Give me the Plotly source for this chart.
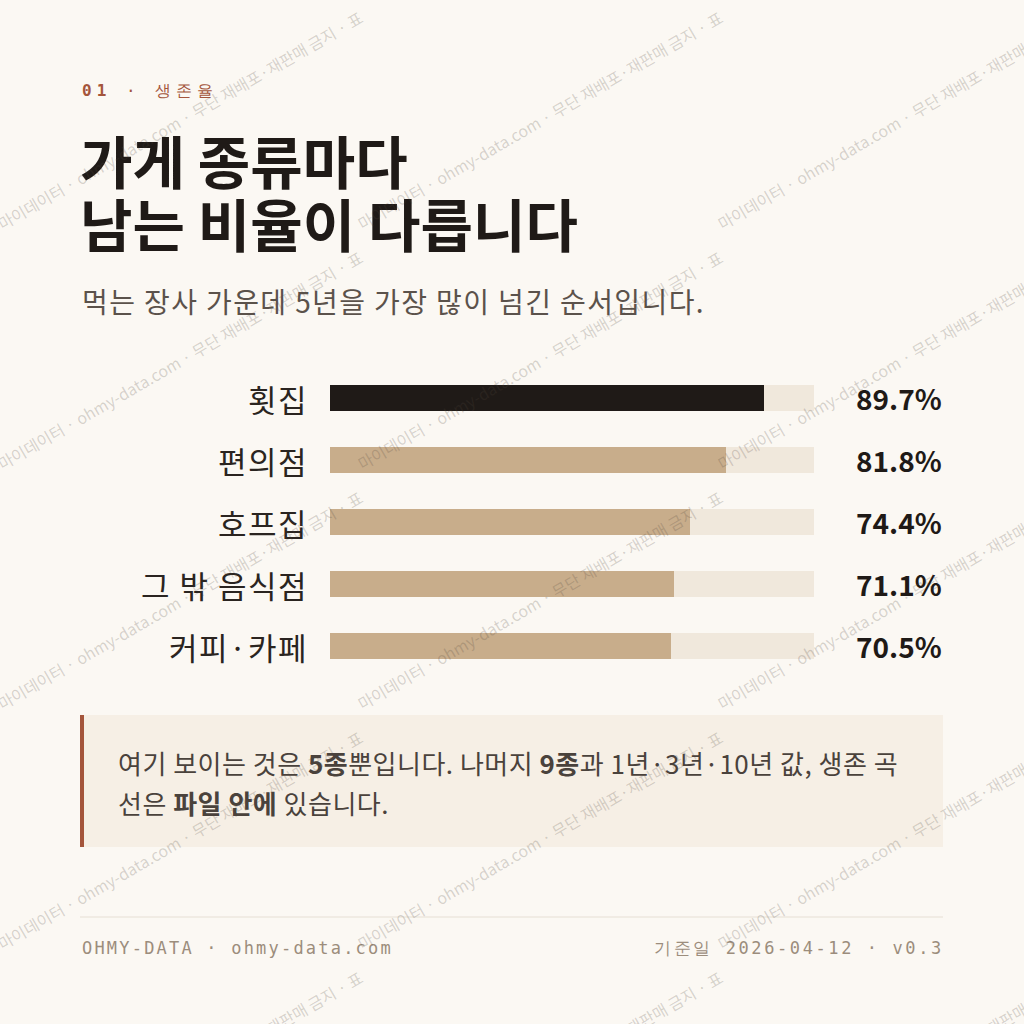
import plotly.graph_objects as go

# 5년 생존율 (%)
categories = ['횟집', '편의점', '호프집', '그 밖 음식점', '커피·카페']
survival = [89.7, 81.8, 74.4, 71.1, 70.5]
track_max = 100

W = H = 1024
BG = '#fbf8f3'
INK = '#1f1a17'
TAN = '#c8ad8b'
TRACK = '#f0e8dc'
RUST = '#a4553b'
MUTED = '#9c8d7c'

KR = 'Noto Sans CJK KR'
MONO = 'DejaVu Sans Mono'


def px(x):
    return x / W


def py(y):
    return 1 - y / H


def spaced(text, sp):
    return f'<span style="letter-spacing:{sp}px">{text}</span>'


colors = [INK] + [TAN] * (len(survival) - 1)

fig = go.Figure()
fig.add_trace(go.Bar(
    y=categories, x=[track_max] * len(categories), orientation='h',
    marker=dict(color=TRACK, line=dict(width=0)), width=0.42,
    hoverinfo='skip', showlegend=False))
fig.add_trace(go.Bar(
    y=categories, x=survival, orientation='h',
    marker=dict(color=colors, line=dict(width=0)), width=0.42,
    showlegend=False))

ann = []

# category labels and values
for c, v in zip(categories, survival):
    ann.append(dict(x=px(310), xref='paper', y=c, yref='y', text=spaced(c, 1.5),
                    xanchor='right', yanchor='middle', showarrow=False,
                    font=dict(family=KR, size=31, color='#2a2420')))
    ann.append(dict(x=px(944), xref='paper', y=c, yref='y', text=f'<b>{v}%</b>',
                    xanchor='right', yanchor='middle', showarrow=False,
                    font=dict(family=KR, size=28, color=INK)))

# header
ann.append(dict(x=px(80), y=py(90), xref='paper', yref='paper',
                text=spaced('<b>01</b> · 생존율', 5),
                xanchor='left', yanchor='middle', showarrow=False,
                font=dict(family=MONO, size=16, color=RUST)))
ann.append(dict(x=px(78), y=py(159), xref='paper', yref='paper',
                text='<b>가게 종류마다</b>', xanchor='left', yanchor='middle',
                showarrow=False, font=dict(family=KR, size=57, color=INK)))
ann.append(dict(x=px(78), y=py(222), xref='paper', yref='paper',
                text='<b>남는 비율이 다릅니다</b>', xanchor='left', yanchor='middle',
                showarrow=False, font=dict(family=KR, size=57, color=INK)))
ann.append(dict(x=px(80), y=py(301), xref='paper', yref='paper',
                text=spaced('먹는 장사 가운데 5년을 가장 많이 넘긴 순서입니다.', 1.4),
                xanchor='left', yanchor='middle', showarrow=False,
                font=dict(family=KR, size=28, color='#5b524b')))

# callout
ann.append(dict(x=px(116), y=py(762), xref='paper', yref='paper',
                text=spaced('여기 보이는 것은 <b>5종</b>뿐입니다. 나머지 <b>9종</b>과 1년·3년·10년 값, 생존 곡', 0.5),
                xanchor='left', yanchor='middle', showarrow=False,
                font=dict(family=KR, size=26, color='#4a423c')))
ann.append(dict(x=px(116), y=py(802), xref='paper', yref='paper',
                text=spaced('선은 <b>파일 안에</b> 있습니다.', 0.5),
                xanchor='left', yanchor='middle', showarrow=False,
                font=dict(family=KR, size=26, color='#4a423c')))

# footer
ann.append(dict(x=px(80), y=py(948), xref='paper', yref='paper',
                text=spaced('OHMY-DATA · ohmy-data.com', 2.2),
                xanchor='left', yanchor='middle', showarrow=False,
                font=dict(family=MONO, size=17, color=MUTED)))
ann.append(dict(x=px(946), y=py(948), xref='paper', yref='paper',
                text=spaced('기준일 2026-04-12 · v0.3', 2.6),
                xanchor='right', yanchor='middle', showarrow=False,
                font=dict(family=MONO, size=17, color=MUTED)))

# watermark tiles
mark = '마이데이터 · ohmy-data.com · 무단 재배포·재판매 금지 · 표'
for cx in (180, 540, 900):
    for cy in (120, 360, 600, 840, 1080):
        ann.append(dict(x=px(cx), y=py(cy), xref='paper', yref='paper',
                        text=mark, textangle=-30, showarrow=False,
                        xanchor='center', yanchor='middle',
                        font=dict(family=KR, size=16, color='rgba(80,70,60,0.22)')))

shapes = [
    dict(type='rect', xref='paper', yref='paper', x0=px(80), x1=px(943),
         y0=py(847), y1=py(715), fillcolor='#f6efe5', line=dict(width=0), layer='below'),
    dict(type='rect', xref='paper', yref='paper', x0=px(80), x1=px(84),
         y0=py(847), y1=py(715), fillcolor=RUST, line=dict(width=0), layer='below'),
    dict(type='line', xref='paper', yref='paper', x0=px(80), x1=px(943),
         y0=py(917), y1=py(917), line=dict(color='#e6dfd4', width=1)),
]

fig.update_layout(
    width=W, height=H, margin=dict(l=0, r=0, t=0, b=0),
    paper_bgcolor=BG, plot_bgcolor='rgba(0,0,0,0)',
    barmode='overlay', bargap=0,
    xaxis=dict(domain=[px(330), px(814)], range=[0, track_max], visible=False, fixedrange=True),
    yaxis=dict(domain=[py(677), py(367)], range=[len(categories) - 0.5, -0.5],
               categoryorder='array', categoryarray=categories,
               visible=False, fixedrange=True),
    annotations=ann, shapes=shapes, showlegend=False,
)

fig.write_html('out.html', config={'displayModeBar': False},
               post_script="document.body.style.margin='0';document.body.style.background='%s';" % BG)
